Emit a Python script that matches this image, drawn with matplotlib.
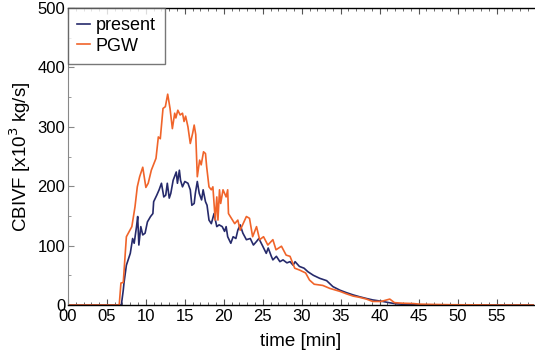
import numpy as np
import matplotlib.pyplot as plt
from matplotlib.ticker import MultipleLocator, FuncFormatter

plt.rcParams['font.family'] = ['Liberation Sans', 'DejaVu Sans']

# values (time in min, CBIVF in 10^3 kg/s)
t_present = [0, 6.85, 7.1, 7.2, 7.5, 8.0, 8.3, 8.5, 8.8, 8.95, 9.1, 9.35, 9.6, 9.9, 10.2,
             10.6, 10.9, 11.0, 11.4, 11.7, 12.0, 12.3, 12.55, 12.75, 13.0, 13.2, 13.5,
             13.9, 14.05, 14.3, 14.45, 14.7, 15.0, 15.4, 15.7, 15.9, 16.2, 16.35, 16.6,
             16.85, 17.15, 17.35, 17.65, 17.85, 18.1, 18.4, 18.75, 19.1, 19.4, 19.8, 20.1,
             20.3, 20.5, 20.9, 21.2, 21.55, 21.8, 22.1, 22.45, 22.9, 23.4, 23.8, 24.2, 24.5,
             25.0, 25.45, 25.7, 26.1, 26.3, 26.75, 27.2, 27.6, 28.1, 28.5, 28.9, 29.15,
             29.7, 30.3, 30.8, 31.5, 32.3, 33.2, 34.0, 34.9, 35.7, 36.6, 37.4, 38.3, 39.1,
             40.4, 41.2, 42.1, 43.4, 44.6, 45.5, 59.8]
present = [0, 0, 25, 38, 67, 87, 112, 104, 132, 149, 101, 132, 118, 121, 140,
           149, 154, 174, 185, 194, 205, 182, 185, 205, 180, 188, 210,
           224, 205, 227, 210, 199, 208, 205, 194, 168, 171, 188, 208,
           188, 177, 194, 174, 168, 143, 137, 154, 132, 135, 132, 124,
           132, 115, 104, 115, 112, 126, 135, 121, 110, 112, 101, 107, 112,
           99, 87, 96, 82, 76, 82, 73, 76, 71, 73, 67, 73,
           65, 62, 56, 50, 45, 41, 31, 25, 21, 17, 14, 11, 8.6,
           6, 4, 2, 1, 0.5, 0, 0]

t_pgw = [0, 6.58, 6.8, 7.1, 7.5, 8.2, 8.6, 8.9, 9.2, 9.6, 10.0, 10.3, 10.7, 11.3, 11.6,
         11.85, 12.2, 12.5, 12.8, 13.1, 13.4, 13.7, 13.85, 14.1, 14.4, 14.7, 14.9, 15.1,
         15.4, 15.7, 16.0, 16.2, 16.4, 16.6, 16.9, 17.1, 17.4, 17.65, 17.8, 18.1, 18.4,
         18.6, 18.9, 19.1, 19.25, 19.45, 19.6, 19.9, 20.3, 20.5, 20.6, 21.4, 21.8, 22.1,
         22.9, 23.3, 23.7, 24.2, 24.6, 25.1, 25.65, 26.3, 26.7, 27.4, 28.0, 28.5, 29.1,
         29.7, 30.5, 31.0, 31.6, 32.7, 33.6, 34.9, 35.7, 36.6, 37.4, 38.3, 39.1, 40.2,
         41.3, 41.9, 43.0, 44.3, 45.1, 46.8, 49.0, 52.0, 55.0, 59.8]
pgw = [0, 0, 37, 38, 115, 132, 165, 199, 216, 232, 198, 205, 227, 247, 283,
       280, 331, 334, 355, 331, 297, 323, 315, 328, 320, 323, 309, 318,
       300, 272, 289, 303, 287, 216, 244, 236, 258, 255, 233, 199, 194,
       199, 143, 182, 143, 194, 171, 194, 182, 194, 154, 137, 143, 126,
       149, 146, 115, 132, 110, 115, 101, 110, 93, 99, 84, 82, 62,
       59, 54, 42, 35, 33, 28, 23, 19, 15, 13, 10, 6, 6,
       10, 4, 3, 2.5, 1.5, 1, 0.5, 0.3, 0, 0]

fig = plt.figure(figsize=(5.35, 3.51), dpi=100)
ax = fig.add_axes([0.127, 0.131, 0.871, 0.846])

ax.plot(t_present, present, color='#262a6b', lw=1.2, label='present')
ax.plot(t_pgw, pgw, color='#f0642a', lw=1.2, label='PGW')

ax.set_xlim(0, 59.8)
ax.set_ylim(0, 500)
ax.xaxis.set_major_locator(MultipleLocator(5))
ax.xaxis.set_minor_locator(MultipleLocator(1))
ax.yaxis.set_major_locator(MultipleLocator(100))
ax.yaxis.set_minor_locator(MultipleLocator(50))
ax.xaxis.set_major_formatter(FuncFormatter(lambda v, p: '%02d' % int(round(v))))

ax.tick_params(axis='x', which='both', direction='in', top=True, bottom=True,
               labelsize=12, pad=3, color='#555555')
ax.tick_params(axis='x', which='major', length=4)
ax.tick_params(axis='x', which='minor', length=2)
ax.tick_params(axis='y', which='both', direction='in', left=True, right=False,
               labelsize=12, pad=2, color='#888888')
ax.tick_params(axis='y', which='major', length=4)
ax.tick_params(axis='y', which='minor', length=2)

ax.spines['left'].set_color('#888888')
ax.spines['right'].set_visible(False)
for s in ['top', 'bottom']:
    ax.spines[s].set_color('black')
    ax.spines[s].set_linewidth(1.0)

ax.set_xlabel('time [min]', fontsize=13.5, labelpad=6)
ax.set_ylabel('CBIVF [x10$^3$ kg/s]', fontsize=13.5, labelpad=3)

leg = ax.legend(loc='upper left', fontsize=13, frameon=True, fancybox=False,
                borderaxespad=0, handlelength=0.7, handletextpad=0.35,
                borderpad=0.5, labelspacing=0.2)
leg.get_frame().set_edgecolor('#555555')
leg.get_frame().set_linewidth(1.0)

fig.savefig('out.png', dpi=100)
